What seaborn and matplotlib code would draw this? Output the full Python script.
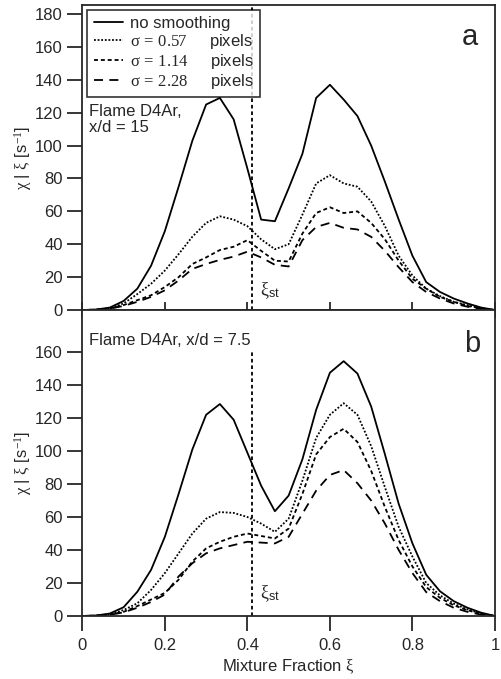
import numpy as np
import pandas as pd
import matplotlib
matplotlib.use('Agg')
import matplotlib.pyplot as plt
import seaborn as sns

# mixture fraction grid (1/30 steps)
xi = np.linspace(0, 1, 31)

# panel a : Flame D4Ar, x/d = 15
a_none = [0, 0.3, 1.5, 5.5, 13, 27, 48, 75, 103, 125, 129, 116, 86, 55, 54, 74,
          95, 129, 137, 128, 118, 100, 78, 55, 33, 17, 11, 7, 4, 1.5, 0]
a_057 = [0, 0.2, 1, 4, 9.7, 16, 24, 34, 44.6, 53, 57, 55, 51, 43, 37, 40,
         58, 77, 82, 77, 75, 66, 51, 33, 21, 13, 8.5, 5, 3, 1, 0]
a_114 = [0, 0.2, 1, 3, 6, 9, 14, 20, 28, 32, 36.5, 38.5, 42.5, 36, 30, 29.5,
         46.5, 59, 62.5, 59, 60, 53, 43, 30, 19, 13, 8, 5, 2.5, 1, 0]
a_228 = [0, 0.2, 0.8, 2.5, 5, 8, 12, 18, 25, 28, 30.5, 32.5, 35.5, 32, 27.5, 26.5,
         42.5, 50.5, 53, 50, 49, 44.5, 36, 26, 17, 11, 7, 4, 2, 0.8, 0]

# panel b : Flame D4Ar, x/d = 7.5
b_none = [0, 0.3, 1.5, 5.3, 14.7, 28, 48, 74, 101, 122, 128.5, 119, 99, 79, 63.5, 73,
          95, 125, 147.5, 154.5, 147, 127, 98, 68, 44, 25, 15, 9, 5, 2, 0]
b_057 = [0, 0.2, 1, 3.6, 7.7, 15.8, 26, 38, 50, 59, 63, 62.5, 60, 56, 51, 59,
         82, 108, 122, 129, 122, 103, 78, 54, 36, 20, 12.5, 7.5, 4, 1.5, 0]
b_114 = [0, 0.2, 0.8, 2.5, 6, 10, 14, 22, 33, 41, 45, 48, 50, 48.5, 47, 53,
         74, 98, 108.5, 113.5, 105.5, 88, 66, 46, 30, 17.5, 11, 6.5, 3.5, 1.2, 0]
b_228 = [0, 0.2, 0.7, 2.2, 5, 8.5, 13, 24, 32, 38, 41, 43, 45, 44.5, 44, 48,
         62, 76, 85.5, 88.5, 80.5, 70, 56, 40, 26, 14.5, 9, 5, 2.5, 0.8, 0]

labels = ['none', '0.57', '1.14', '2.28']
legend_labels = ['no smoothing',
                 r'$\sigma\,=\,0.57$     pixels',
                 r'$\sigma\,=\,1.14$     pixels',
                 r'$\sigma\,=\,2.28$     pixels']
xi_st = 0.41

sns.set_style('ticks')
plt.rcParams['font.family'] = ['Liberation Sans', 'DejaVu Sans']
plt.rcParams['mathtext.fontset'] = 'custom'
plt.rcParams['mathtext.rm'] = 'Liberation Serif'
plt.rcParams['mathtext.it'] = 'Liberation Serif'
plt.rcParams['mathtext.sf'] = 'Liberation Sans'

FS = 12


def to_long(series):
    frames = []
    for lab, vals in zip(labels, series):
        frames.append(pd.DataFrame({'xi': xi, 'chi': vals, 'sigma': lab}))
    return pd.concat(frames, ignore_index=True)


dash_map = {'none': '', '0.57': (1, 1), '1.14': (2.2, 1.6), '2.28': (5, 3.5)}

fig = plt.figure(figsize=(5.02, 6.79), dpi=100)
ax1 = fig.add_axes([0.164, 0.5434, 0.822, 0.4492])
ax2 = fig.add_axes([0.164, 0.0928, 0.822, 0.4506])

for ax, series in [(ax1, [a_none, a_057, a_114, a_228]),
                   (ax2, [b_none, b_057, b_114, b_228])]:
    sns.lineplot(data=to_long(series), x='xi', y='chi', style='sigma',
                 style_order=labels, dashes=dash_map, color='black',
                 linewidth=1.3, legend=False, ax=ax)
    ax.set_xlim(0, 1)
    ax.set_ylim(0, 185.5)
    ax.set_ylabel(r'$\chi$ | $\xi$ [s$^{-1}$]', fontsize=FS, labelpad=1)
    ax.set_xticks([0, 0.2, 0.4, 0.6, 0.8, 1.0])
    for sp in ax.spines.values():
        sp.set_linewidth(1.3)
        sp.set_visible(True)
    ax.tick_params(axis='y', direction='out', length=11, width=1.3,
                   labelsize=FS, pad=3)

# panel a
ax1.axvline(xi_st, color='black', linestyle=(0, (2, 1.6)), linewidth=1.3)
ax1.set_yticks(range(0, 181, 20))
ax1.tick_params(axis='x', direction='inout', length=12, width=1.3, labelbottom=False)
ax1.set_xlabel('')
ax1.text(0.43, 9, r'$\xi_{\mathsf{st}}$', fontsize=13)
ax1.text(0.015, 116, 'Flame D4Ar,\nx/d = 15', fontsize=FS, va='center',
         linespacing=1.1)
ax1.text(0.94, 166, 'a', fontsize=21, ha='center', va='center')
leg = ax1.legend(ax1.get_lines()[:4], legend_labels, loc='upper left',
                 bbox_to_anchor=(0.012, 0.985), fontsize=FS, frameon=True,
                 fancybox=False, handlelength=1.75, handletextpad=0.4,
                 borderpad=0.4, labelspacing=0.05, borderaxespad=0)
leg.get_frame().set_edgecolor('black')
leg.get_frame().set_linewidth(1.2)

# panel b
ax2.vlines(xi_st, 0, 160, color='black', linestyle=(0, (2, 1.6)), linewidth=1.3)
ax2.set_yticks(range(0, 161, 20))
ax2.set_xticklabels(['0', '0.2', '0.4', '0.6', '0.8', '1'])
ax2.tick_params(axis='x', direction='out', length=11, width=1.3,
                labelsize=FS, pad=5)
ax2.set_xlabel(r'Mixture Fraction $\xi$', fontsize=FS, labelpad=3)
ax2.text(0.43, 11, r'$\xi_{\mathsf{st}}$', fontsize=13)
ax2.text(0.015, 167, 'Flame D4Ar, x/d = 7.5', fontsize=FS, va='center')
ax2.text(0.946, 165, 'b', fontsize=21, ha='center', va='center')

fig.savefig('out.png', dpi=100)
